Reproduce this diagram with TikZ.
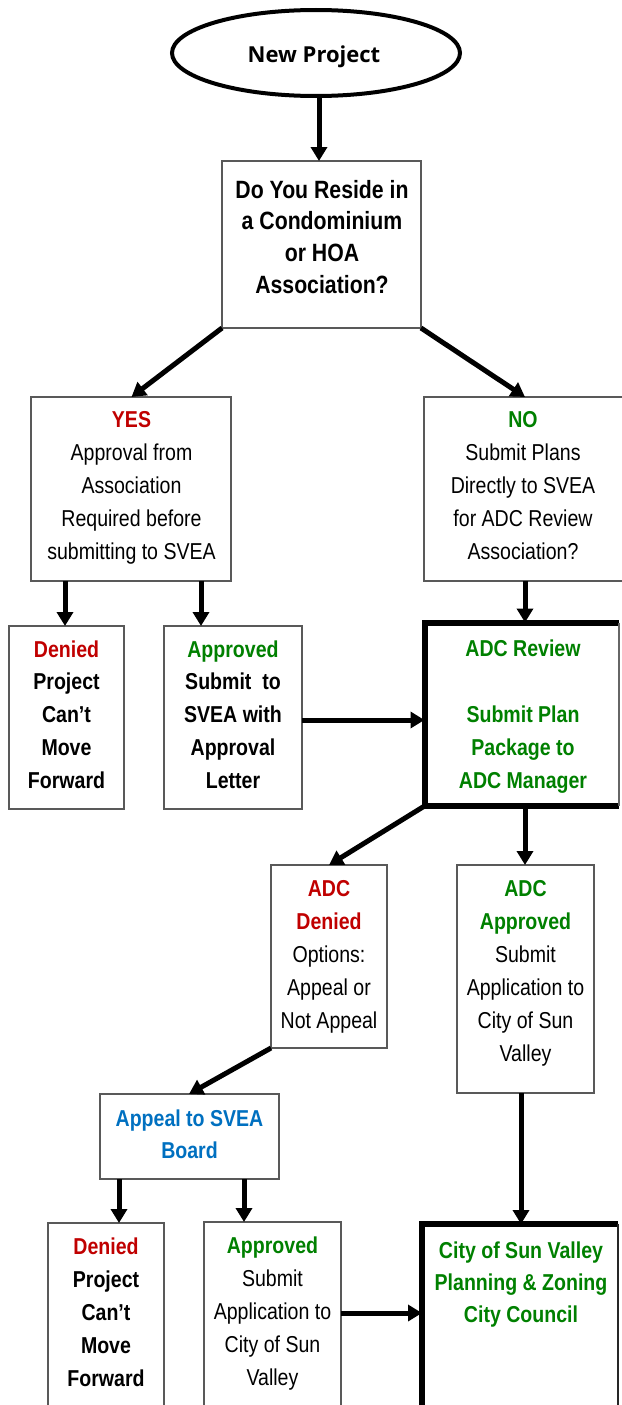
\documentclass[tikz,border=0pt]{standalone}
\usepackage{fontspec}
\setmainfont{Liberation Sans}[FakeStretch=0.85]
\newfontfamily\osans{Open Sans}
\usetikzlibrary{arrows.meta,shapes.geometric}
\definecolor{cred}{HTML}{C00000}
\definecolor{cgreen}{HTML}{008000}
\definecolor{cblue}{HTML}{0070C0}
\newcommand\fst[1]{\rule{0pt}{#1pt}}
\begin{document}
\begin{tikzpicture}[x=1pt,y=-1pt,
  box/.style={draw=black!65, line width=1.2pt, inner sep=0pt, outer sep=0pt, anchor=north west},
  plainbox/.style={inner sep=0pt, outer sep=0pt, anchor=north west},
  heavy/.style={line width=6pt, line join=miter},
  thinside/.style={draw=black!60, line width=1.2pt},
  txt/.style={inner sep=0pt, outer sep=0pt, anchor=north, align=center, font=\fontsize{23pt}{33pt}\selectfont},
  qtxt/.style={txt, font=\fontsize{25pt}{31.7pt}\selectfont\bfseries},
  arr/.style={line width=5pt, -{Triangle[width=16pt,length=14pt]}},
]
\useasboundingbox (0,0) rectangle (621,1405);

% x / y reference coordinates
\coordinate (c65) at (65,0);
\coordinate (c119) at (119,0);
\coordinate (c131) at (131.5,0);
\coordinate (c189) at (189,0);
\coordinate (c201) at (201,0);
\coordinate (c244) at (244,0);
\coordinate (c319) at (319,0);
\coordinate (c329) at (329,0);
\coordinate (c521) at (521,0);
\coordinate (c525) at (525,0);
\coordinate (r720) at (0,720);
\coordinate (r1313) at (0,1313);

% start ellipse
\node[draw, line width=4pt, ellipse, minimum width=288pt, minimum height=86pt, inner sep=0pt, outer sep=0pt] (start) at (316,53) {};
\node[anchor=base, inner sep=0pt, font=\osans\fontsize{22pt}{26pt}\bfseries\selectfont] (startt) at (314,63) {New Project};

% boxes
\node[box, minimum width=199pt, minimum height=167pt] (q) at (222,161) {};
\node[box, minimum width=200pt, minimum height=184pt] (yes) at (31,397) {};
\node[box, minimum width=216pt, minimum height=184pt] (no) at (424,397) {};
\node[box, minimum width=115pt, minimum height=183pt] (den1) at (9,626) {};
\node[box, minimum width=138pt, minimum height=183pt] (app1) at (164,626) {};
\node[plainbox, minimum width=194.5pt, minimum height=183.5pt] (adc) at (424.5,622.5) {};
\node[box, minimum width=116pt, minimum height=183pt] (adcd) at (271,865) {};
\node[box, minimum width=137pt, minimum height=228pt] (adca) at (457,865) {};
\node[box, minimum width=179pt, minimum height=85pt] (appeal) at (100,1094) {};
\node[box, minimum width=116pt, minimum height=200pt] (den2) at (48,1223) {};
\node[box, minimum width=137pt, minimum height=200pt] (app2) at (204,1222) {};
\node[plainbox, minimum width=196pt, minimum height=200pt] (city) at (422,1224) {};

% heavy borders
\draw[heavy] (adc.north east) -- (adc.north west) -- (adc.south west) -- (adc.south east);
\draw[thinside] (adc.north east) -- (adc.south east);
\draw[heavy, line width=5.5pt] (city.south west) -- (city.north west) -- (city.north east);
\draw[thinside, draw=black!85, line width=1.6pt] (city.north east) -- (city.south east);

% texts
\node[qtxt] (qt) at (322,173) {\fst{25}Do You Reside in\\a Condominium\\or HOA\\Association?};
\node[txt] (yest) at (131.5,404) {\fst{23}{\color{cred}\bfseries YES}\\Approval from\\Association\\Required before\\submitting to SVEA};
\node[txt] (not) at (523,404) {\fst{23}{\color{cgreen}\bfseries NO}\\Submit Plans\\Directly to SVEA\\for ADC Review\\Association?};
\node[txt, font=\fontsize{23pt}{32.8pt}\selectfont\bfseries] (den1t) at (66.5,634) {\fst{23}{\color{cred}Denied}\\Project\\Can’t\\Move\\Forward};
\node[txt, font=\fontsize{23pt}{32.8pt}\selectfont\bfseries] (app1t) at (233,634) {\fst{23}{\color{cgreen}Approved}\\Submit\ \ to\\SVEA with\\Approval\\Letter};
\node[txt, font=\fontsize{23pt}{33pt}\selectfont\bfseries, text=cgreen] (adct) at (523,633) {\fst{23}ADC Review\\\mbox{}\\Submit Plan\\Package to\\ADC Manager};
\node[txt] (adcdt) at (329,873) {\fst{23}{\color{cred}\bfseries ADC}\\{\color{cred}\bfseries Denied}\\Options:\\Appeal or\\Not Appeal};
\node[txt] (adcat) at (525.5,873) {\fst{23}{\color{cgreen}\bfseries ADC}\\{\color{cgreen}\bfseries Approved}\\Submit\\Application to\\City of Sun\\Valley};
\node[txt, font=\fontsize{23pt}{32pt}\selectfont\bfseries, text=cblue] (appealt) at (189.5,1103) {\fst{23}Appeal to SVEA\\Board};
\node[txt, font=\fontsize{23pt}{33pt}\selectfont\bfseries] (den2t) at (106,1231) {\fst{23}{\color{cred}Denied}\\Project\\Can’t\\Move\\Forward};
\node[txt] (app2t) at (272.5,1230) {\fst{23}{\color{cgreen}\bfseries Approved}\\Submit\\Application to\\City of Sun\\Valley};
\node[txt, font=\fontsize{23pt}{32pt}\selectfont\bfseries, text=cgreen] (cityt) at (521,1235) {\fst{23}City of Sun Valley\\Planning \& Zoning\\City Council};

% connectors
\draw[arr] (start.south -| c319) -- (q.north -| c319);
\draw[arr] (q.south west) -- (yes.north -| c131);
\draw[arr] (q.south east) -- (no.north -| c525);
\draw[arr] (yes.south -| c65) -- (den1.north -| c65);
\draw[arr] (yes.south -| c201) -- (app1.north -| c201);
\draw[arr] (no.south -| c525) -- (adc.north -| c525);
\draw[arr] (app1.east |- r720) -- (adc.west |- r720);
\draw[arr] (adc.south west) -- (adcd.north -| c329);
\draw[arr] (adc.south -| c525) -- (adca.north -| c525);
\draw[arr] (adcd.south west) -- (appeal.north -| c189);
\draw[arr] (appeal.south -| c119) -- (den2.north -| c119);
\draw[arr] (appeal.south -| c244) -- (app2.north -| c244);
\draw[arr] (adca.south -| c521) -- (city.north -| c521);
\draw[arr] (app2.east |- r1313) -- (city.west |- r1313);
\end{tikzpicture}
\end{document}
